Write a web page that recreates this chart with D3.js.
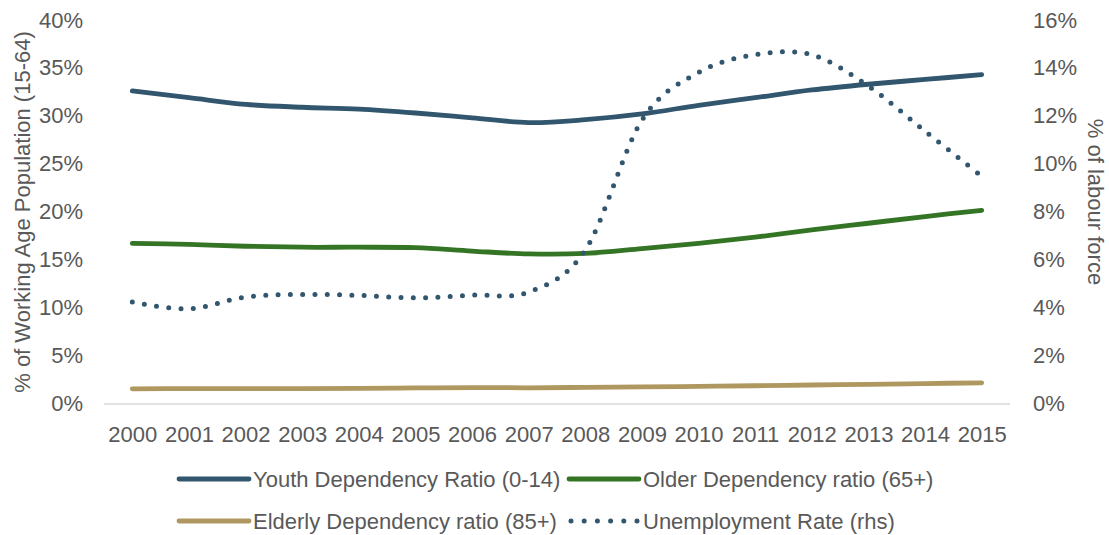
<!DOCTYPE html>
<html>
<head>
<meta charset="utf-8">
<script src="https://cdn.jsdelivr.net/npm/d3@7"></script>
<style>
  html, body { margin: 0; padding: 0; background: #fff; }
  svg text { font-family: "Liberation Sans", Arial, sans-serif; fill: #595959; }
</style>
</head>
<body>
<svg id="chart" width="1109" height="535"></svg>
<script>
// Years on the horizontal axis
const years = ["2000","2001","2002","2003","2004","2005","2006","2007",
               "2008","2009","2010","2011","2012","2013","2014","2015"];

// Dependency ratios, % of working age population (left axis)
const youthRatio   = [32.6, 31.9, 31.2, 30.9, 30.7, 30.3, 29.8, 29.3, 29.6, 30.2, 31.1, 31.9, 32.7, 33.3, 33.8, 34.3];
const olderRatio   = [16.7, 16.6, 16.4, 16.3, 16.3, 16.25, 15.9, 15.6, 15.65, 16.15, 16.7, 17.35, 18.1, 18.8, 19.5, 20.15];
const elderlyRatio = [1.53, 1.55, 1.55, 1.56, 1.58, 1.62, 1.66, 1.64, 1.68, 1.73, 1.79, 1.85, 1.93, 2.0, 2.08, 2.16];

// Unemployment rate, % of labour force (right axis)
const unemployment = [4.23, 3.95, 4.44, 4.55, 4.51, 4.41, 4.52, 4.65, 6.4, 11.82, 13.81, 14.55, 14.55, 13.24, 11.36, 9.48];

// Axis ticks
const leftTicks  = [0, 5, 10, 15, 20, 25, 30, 35, 40];
const rightTicks = [0, 2, 4, 6, 8, 10, 12, 14, 16];

const seriesNames  = ["Youth Dependency Ratio (0-14)", "Older Dependency ratio (65+)",
                      "Elderly Dependency ratio (85+)", "Unemployment Rate (rhs)"];
const seriesColors = ["#31566E", "#347425", "#AF9760", "#31566E"];

const svg = d3.select("#chart");
const plot = { left: 104, right: 1010, top: 20, bottom: 403.5 };

const x = d3.scalePoint().domain(years).range([plot.left, plot.right]).padding(0.5);
const yL = d3.scaleLinear().domain([0, 40]).range([plot.bottom, plot.top]);
const yR = d3.scaleLinear().domain([0, 16]).range([plot.bottom, plot.top]);

const fontSize = 22;

// Left axis
const axL = svg.append("g")
  .attr("transform", `translate(${plot.left},0)`)
  .call(d3.axisLeft(yL).tickValues(leftTicks).tickSize(0).tickPadding(21).tickFormat(d => d + "%"));
axL.select(".domain").remove();
axL.selectAll("text").style("font-size", fontSize + "px").attr("font-family", null);

// Right axis
const axR = svg.append("g")
  .attr("transform", `translate(${plot.right},0)`)
  .call(d3.axisRight(yR).tickValues(rightTicks).tickSize(0).tickPadding(23).tickFormat(d => d + "%"));
axR.select(".domain").remove();
axR.selectAll("text").style("font-size", fontSize + "px");

// Bottom axis
const axB = svg.append("g")
  .attr("transform", `translate(0,${plot.bottom})`)
  .call(d3.axisBottom(x).tickSize(0).tickPadding(23));
axB.select(".domain")
  .attr("d", `M${plot.left},0.5H${plot.right}`)
  .attr("stroke", "#D9D9D9").attr("stroke-width", 1.5);
axB.selectAll("text").style("font-size", fontSize + "px");

[axL, axR, axB].forEach(g => g.attr("font-family", null).attr("font-size", null));

// Axis titles
svg.append("text")
  .attr("transform", "translate(30,212) rotate(-90)")
  .attr("text-anchor", "middle")
  .style("font-size", fontSize + "px")
  .text("% of Working Age Population (15-64)");

svg.append("text")
  .attr("transform", "translate(1088,202) rotate(90)")
  .attr("text-anchor", "middle")
  .style("font-size", fontSize + "px")
  .text("% of labour force");

// Lines (smoothed)
const curve = d3.curveCardinal.tension(0);
const lineL = d3.line().x((d, i) => x(years[i])).y(d => yL(d)).curve(curve);
const lineR = d3.line().x((d, i) => x(years[i])).y(d => yR(d)).curve(curve);

const lineWidth = 4.8;
const dotPattern = "0 12.3";

svg.append("path").datum(elderlyRatio).attr("d", lineL)
  .attr("fill", "none").attr("stroke", seriesColors[2]).attr("stroke-width", lineWidth).attr("stroke-linecap", "round");
svg.append("path").datum(olderRatio).attr("d", lineL)
  .attr("fill", "none").attr("stroke", seriesColors[1]).attr("stroke-width", lineWidth).attr("stroke-linecap", "round");
svg.append("path").datum(youthRatio).attr("d", lineL)
  .attr("fill", "none").attr("stroke", seriesColors[0]).attr("stroke-width", lineWidth).attr("stroke-linecap", "round");
svg.append("path").datum(unemployment).attr("d", lineR)
  .attr("fill", "none").attr("stroke", seriesColors[3]).attr("stroke-width", 5)
  .attr("stroke-linecap", "round").attr("stroke-dasharray", dotPattern);

// Legend: two rows, two columns
const legendPos = [
  { x: 177, y: 479 }, { x: 567, y: 479 },
  { x: 177, y: 521 }, { x: 567, y: 521 }
];
seriesNames.forEach((name, i) => {
  const g = svg.append("g").attr("transform", `translate(${legendPos[i].x},${legendPos[i].y})`);
  const ln = g.append("line")
    .attr("x1", 2).attr("x2", 72).attr("y1", 0).attr("y2", 0)
    .attr("stroke", seriesColors[i]).attr("stroke-width", i === 3 ? 5 : lineWidth)
    .attr("stroke-linecap", "round");
  if (i === 3) ln.attr("x1", 4).attr("x2", 70).attr("stroke-dasharray", "0 13.2");
  g.append("text")
    .attr("x", 76).attr("y", 0).attr("dy", "0.35em")
    .style("font-size", fontSize + "px")
    .text(name);
});
</script>
</body>
</html>
